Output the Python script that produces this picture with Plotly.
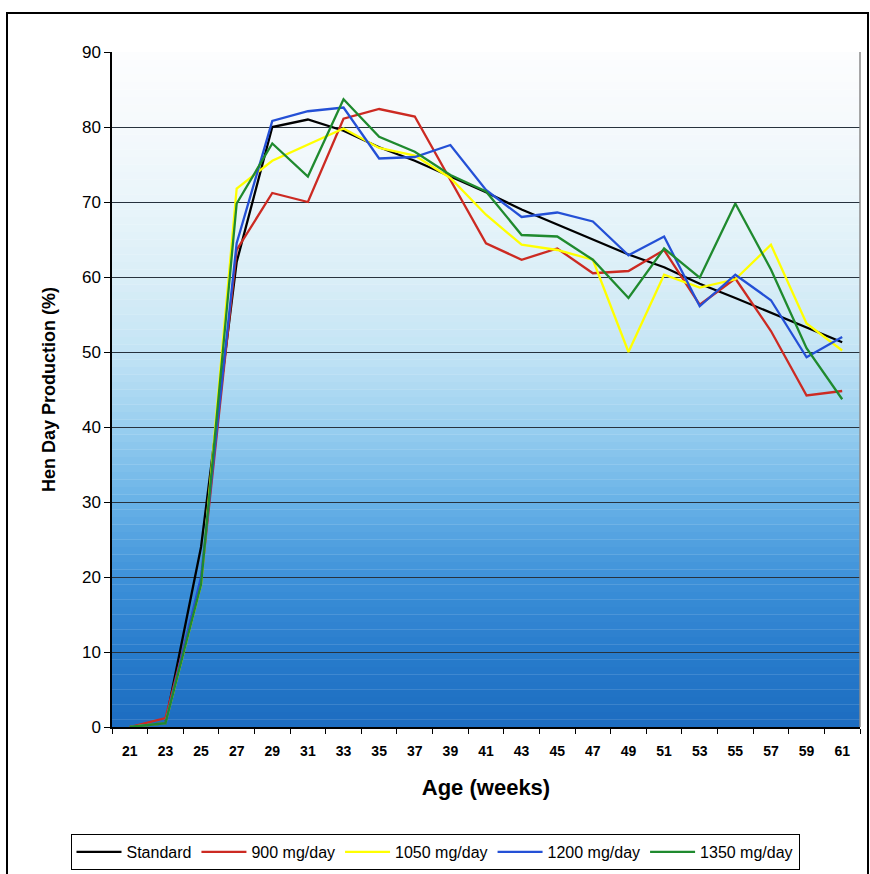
import plotly.graph_objects as go

weeks = list(range(21, 62, 2))
standard = [0, 0.5, 24, 62, 80, 81, 79.5, 77.3, 75.5, 73.4, 71.3, 69.0, 67.0, 65.0, 63.0, 61.3, 59.1, 57.2, 55.2, 53.3, 51.3]
mg900 = [0, 1.2, 19.5, 63.6, 71.2, 70.0, 81.1, 82.4, 81.4, 73.0, 64.5, 62.3, 63.8, 60.5, 60.8, 63.6, 56.3, 59.8, 52.8, 44.2, 44.8]
mg1050 = [0, 0.5, 19.0, 71.8, 75.5, 77.7, 79.8, 77.2, 76.2, 73.2, 68.3, 64.3, 63.6, 62.3, 50.0, 60.3, 58.6, 59.7, 64.3, 53.8, 50.2]
mg1200 = [0, 0.5, 20.0, 64.5, 80.8, 82.1, 82.6, 75.8, 76.0, 77.6, 71.6, 68.0, 68.6, 67.4, 62.9, 65.4, 56.1, 60.3, 56.9, 49.3, 52.0]
mg1350 = [0, 0.5, 19.0, 69.8, 77.8, 73.4, 83.7, 78.7, 76.7, 73.6, 71.4, 65.6, 65.4, 62.3, 57.2, 63.8, 59.9, 69.8, 61.0, 50.5, 43.7]

series = [
    ("Standard", standard, "#000000"),
    ("900 mg/day", mg900, "#cc2a22"),
    ("1050 mg/day", mg1050, "#ffff00"),
    ("1200 mg/day", mg1200, "#2450d6"),
    ("1350 mg/day", mg1350, "#1f8a2e"),
]

fig = go.Figure()
for name, vals, col in series:
    fig.add_trace(go.Scatter(x=weeks, y=vals, mode="lines", name=name,
                             line=dict(color=col, width=2.3)))

# vertical background gradient (white at top to blue at bottom)
stops = [(0, (28, 108, 192)), (10, (40, 124, 204)), (20, (62, 145, 217)),
         (30, (104, 178, 231)), (40, (152, 206, 239)), (50, (195, 228, 245)),
         (60, (218, 238, 247)), (70, (233, 245, 250)), (80, (245, 249, 252)),
         (90, (252, 253, 254))]

def col_at(v):
    for (a, ca), (b, cb) in zip(stops[:-1], stops[1:]):
        if a <= v <= b:
            t = (v - a) / (b - a)
            c = [round(ca[i] + t * (cb[i] - ca[i])) for i in range(3)]
            return "rgb(%d,%d,%d)" % tuple(c)
    return "rgb(252,253,254)"

shapes = []
step = 1.0
n = int(90 / step)
for i in range(n):
    y0 = i * step
    y1 = (i + 1) * step
    shapes.append(dict(type="rect", xref="x", yref="y", x0=20, x1=62, y0=y0, y1=y1 + 0.05,
                       fillcolor=col_at((y0 + y1) / 2), line=dict(width=0), layer="below"))
# plot area right border
shapes.append(dict(type="line", xref="paper", yref="paper", x0=1, x1=1, y0=0, y1=1,
                   line=dict(color="#8a8a8a", width=1.5), layer="above"))
# outer chart border
shapes.append(dict(type="rect", xref="paper", yref="paper",
                   x0=(7 - 112) / 748, x1=(868 - 112) / 748,
                   y0=(727 - 885) / 675, y1=(727 - 13) / 675,
                   line=dict(color="#000000", width=2), fillcolor="rgba(0,0,0,0)", layer="above"))

fig.update_layout(
    width=870, height=874,
    margin=dict(l=112, r=10, t=52, b=147, autoexpand=False),
    paper_bgcolor="white",
    plot_bgcolor="white",
    shapes=shapes,
    font=dict(family="Liberation Sans, Arial, sans-serif", color="black"),
    showlegend=True,
    legend=dict(orientation="h", xref="container", yref="container",
                x=435 / 870, xanchor="center", y=(874 - 852) / 874, yanchor="middle",
                bordercolor="black", borderwidth=1, bgcolor="white",
                font=dict(size=16, family="Liberation Sans Narrow, Liberation Sans, Arial, sans-serif"),
                itemwidth=45, tracegroupgap=0),
    xaxis=dict(range=[20, 62], tickvals=weeks, ticktext=[str(w) for w in weeks],
               ticks="", showgrid=False, zeroline=False,
               showline=True, linecolor="black", linewidth=1.5,
               ticklabelstandoff=10,
               tickfont=dict(size=14, family="Liberation Sans, Arial, sans-serif", weight="bold"),
               minor=dict(tickvals=list(range(20, 63, 2)), ticks="outside", ticklen=5,
                          tickcolor="black", tickwidth=1, showgrid=False),
               title=dict(text="<b>Age (weeks)</b>", font=dict(size=22), standoff=22)),
    yaxis=dict(range=[0, 90], tickvals=list(range(0, 91, 10)),
               ticks="outside", ticklen=6, tickcolor="black",
               showgrid=True, gridcolor="#27323d", gridwidth=1.4, zeroline=False,
               showline=True, linecolor="black", linewidth=1.5,
               tickfont=dict(size=17, family="Liberation Sans, Arial, sans-serif"),
               title=dict(text="<b>Hen Day Production (%)</b>", font=dict(size=18), standoff=22)),
)

fig.write_html("out.html")
